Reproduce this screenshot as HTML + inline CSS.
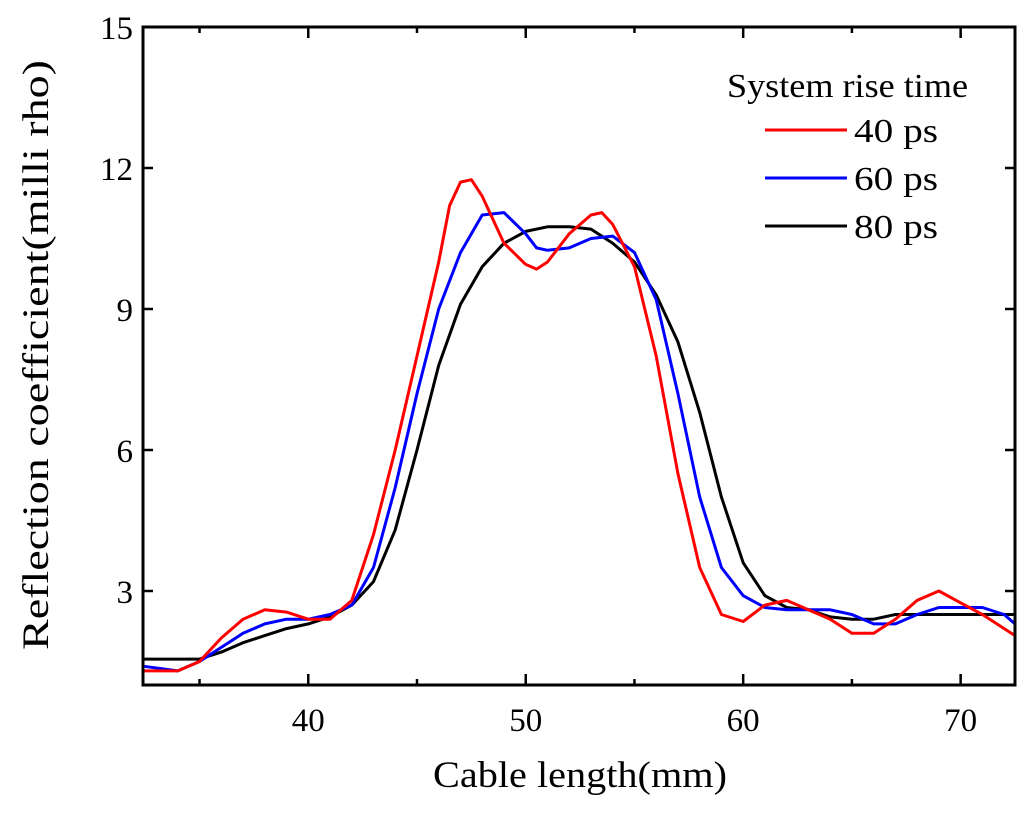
<!DOCTYPE html>
<html><head><meta charset="utf-8"><style>
body{margin:0;background:#fff;}
svg{display:block;font-family:"Liberation Serif",serif;}
</style></head><body>
<svg id="chart" width="1024" height="815">
<g id="plot"></g>
<text x="433" y="787" font-size="37" textLength="294" lengthAdjust="spacingAndGlyphs">Cable length(mm)</text>
<text transform="translate(48,650) rotate(-90)" font-size="37" textLength="590" lengthAdjust="spacingAndGlyphs">Reflection coefficient(milli rho)</text>
<g>
<text x="727" y="97" font-size="34" textLength="241" lengthAdjust="spacingAndGlyphs">System rise time</text>
<line x1="765" y1="130" x2="847" y2="130" stroke="#f00" stroke-width="3"/>
<text x="854" y="142" font-size="34" textLength="84" lengthAdjust="spacingAndGlyphs">40 ps</text>
<line x1="765" y1="178" x2="847" y2="178" stroke="#00f" stroke-width="3"/>
<text x="854" y="190" font-size="34" textLength="84" lengthAdjust="spacingAndGlyphs">60 ps</text>
<line x1="765" y1="226" x2="847" y2="226" stroke="#000" stroke-width="3"/>
<text x="854" y="238" font-size="34" textLength="84" lengthAdjust="spacingAndGlyphs">80 ps</text>
</g>
</svg>
<script>
const xTicks=[40,50,60,70];
const xMinor=[35,45,55,65];
const yTicks=[3,6,9,12,15];
const redX=[32.4,34,35,36,37,38,39,40,41,42,43,44,45,46,46.5,47,47.5,48,49,50,50.5,51,52,53,53.5,54,55,56,57,58,59,60,61,62,63,64,65,66,67,68,69,70,71,72.5];
const redY=[1.3,1.3,1.5,2.0,2.4,2.6,2.55,2.4,2.4,2.8,4.2,6.0,8.0,10.0,11.2,11.7,11.75,11.4,10.4,9.95,9.85,10.0,10.6,11.0,11.05,10.8,9.9,8.0,5.5,3.5,2.5,2.35,2.7,2.8,2.6,2.4,2.1,2.1,2.4,2.8,3.0,2.75,2.5,2.05];
const blueX=[32.4,34,35,36,37,38,39,40,41,42,43,44,45,46,47,48,49,50,50.5,51,52,53,54,55,56,57,58,59,60,61,62,63,64,65,66,67,68,69,70,71,72,72.5];
const blueY=[1.4,1.3,1.5,1.8,2.1,2.3,2.4,2.4,2.5,2.7,3.5,5.2,7.2,9.0,10.2,11.0,11.05,10.6,10.3,10.25,10.3,10.5,10.55,10.2,9.2,7.2,5.0,3.5,2.9,2.65,2.6,2.6,2.6,2.5,2.3,2.3,2.5,2.65,2.65,2.65,2.5,2.3];
const blackX=[32.4,35,36,37,38,39,40,41,42,43,44,45,46,47,48,49,50,51,52,53,54,55,56,57,58,59,60,61,62,63,64,65,66,67,72.5];
const blackY=[1.55,1.55,1.7,1.9,2.05,2.2,2.3,2.45,2.7,3.2,4.3,6.0,7.8,9.1,9.9,10.4,10.65,10.75,10.75,10.7,10.4,10.0,9.3,8.3,6.8,5.0,3.6,2.9,2.65,2.6,2.45,2.4,2.4,2.5,2.5];

const L=143,R=1015,T=27,B=685,xMin=32.4,xMax=72.5,yMin=1.0,yMax=15;
const sx=v=>L+(v-xMin)/(xMax-xMin)*(R-L);
const sy=v=>B-(v-yMin)/(yMax-yMin)*(B-T);
const NS='http://www.w3.org/2000/svg';
const g=document.getElementById('plot');
function mk(tag,attrs){const e=document.createElementNS(NS,tag);for(const k in attrs)e.setAttribute(k,attrs[k]);g.appendChild(e);return e;}
function series(xs,ys,color,name){
  const d=xs.map((x,i)=>(i?'L':'M')+sx(x).toFixed(1)+','+sy(ys[i]).toFixed(1)).join('');
  const p=mk('path',{d:d,fill:'none',stroke:color,'stroke-width':3,'stroke-linejoin':'round'});
  
  
}
series(blackX,blackY,'#000','series-80ps');
series(blueX,blueY,'#00f','series-60ps');
series(redX,redY,'#f00','series-40ps');
const frame=mk('rect',{x:L,y:T,width:R-L,height:B-T,fill:'none',stroke:'#000','stroke-width':3});


xTicks.forEach(v=>{
  const x=sx(v);
  mk('line',{x1:x,y1:B,x2:x,y2:B-11,stroke:'#000','stroke-width':2.5});
  mk('line',{x1:x,y1:T,x2:x,y2:T+11,stroke:'#000','stroke-width':2.5});
  const t=mk('text',{x:x,y:B+46,'font-size':33,'text-anchor':'middle'});
  t.textContent=v;
  
  
});
xMinor.forEach(v=>{
  const x=sx(v);
  mk('line',{x1:x,y1:B,x2:x,y2:B-6,stroke:'#000','stroke-width':2.5});
  mk('line',{x1:x,y1:T,x2:x,y2:T+6,stroke:'#000','stroke-width':2.5});
});
yTicks.forEach(v=>{
  const y=sy(v);
  mk('line',{x1:L,y1:y,x2:L+10,y2:y,stroke:'#000','stroke-width':2.5});
  mk('line',{x1:R,y1:y,x2:R-10,y2:y,stroke:'#000','stroke-width':2.5});
  const t=mk('text',{x:L-10,y:y+12,'font-size':33,'text-anchor':'end'});
  t.textContent=v;
  
  
});
</script>
</body></html>
